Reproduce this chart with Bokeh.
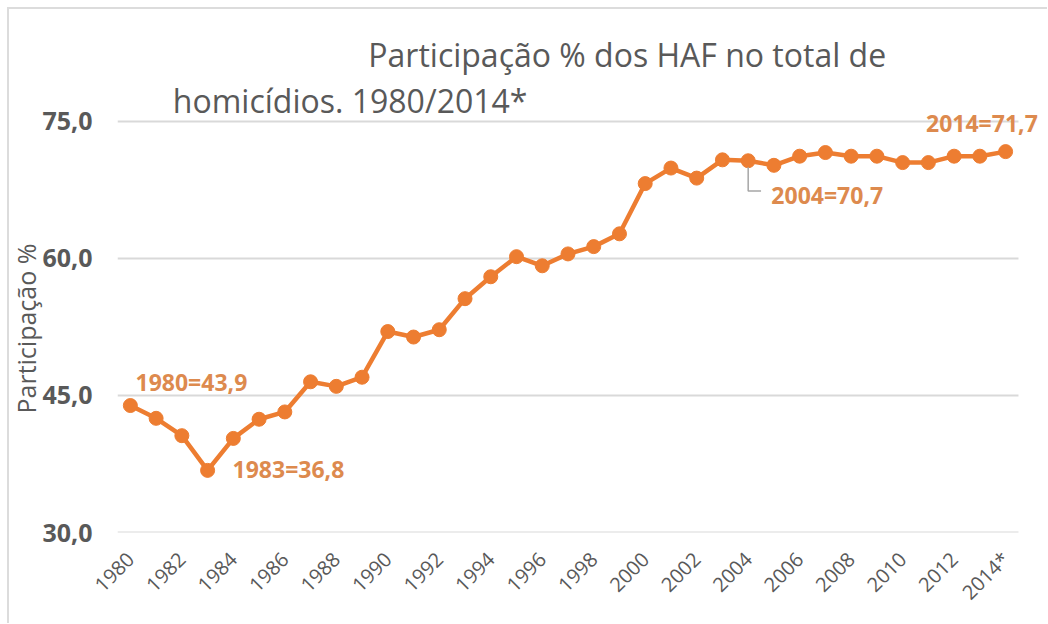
from math import pi
from bokeh.plotting import figure
from bokeh.models import FixedTicker, Label, Range1d, Title
from bokeh.embed import file_html
from bokeh.resources import INLINE

years = list(range(1980, 2015))
values = [43.9, 42.5, 40.6, 36.8, 40.3, 42.4, 43.2, 46.5, 46.0, 47.0,
          52.0, 51.4, 52.2, 55.6, 58.0, 60.2, 59.2, 60.5, 61.3, 62.7,
          68.2, 69.9, 68.8, 70.8, 70.7, 70.2, 71.2, 71.6, 71.2, 71.2,
          70.5, 70.5, 71.2, 71.2, 71.7]
x_ticks = list(range(1980, 2015, 2))
x_tick_labels = {2014: "2014*"}
y_ticks = [30, 45, 60, 75]
y_tick_labels = {30: "30,0", 45: "45,0", 60: "60,0", 75: "75,0"}
title_lines = ["Participação % dos HAF no total de", "homicídios. 1980/2014*"]
y_label = "Participação %"
callout_years = [1980, 1983, 2004, 2014]

ORANGE = "#ED7D31"
LABEL_C = "#DD8A4E"
GRAY = "#595959"
FONT = "Open Sans"

X0, X1 = 1979.5, 2014.5   # category-style padding of the axis

p = figure(width=1038, height=614, frame_width=928, frame_height=523,
           output_backend="svg", toolbar_location=None,
           x_range=Range1d(X0, 2015.55), y_range=Range1d(30, 87.26),
           min_border_left=108, min_border_right=2, min_border_bottom=91,
           min_border_top=0)
p.outline_line_color = None
p.background_fill_color = "white"
p.border_fill_color = "white"
p.styles = {"margin-left": "7px", "margin-top": "7px",
            "border-left": "2px solid #dcdcdc", "border-top": "2px solid #dcdcdc"}

p.xaxis.ticker = FixedTicker(ticks=x_ticks)
p.xaxis.major_label_overrides = {k: v for k, v in x_tick_labels.items()}
p.xaxis.major_label_orientation = pi / 4
p.yaxis.ticker = FixedTicker(ticks=y_ticks)
p.yaxis.major_label_overrides = y_tick_labels
for ax in (p.xaxis, p.yaxis):
    ax.axis_line_color = None
    ax.major_tick_line_color = None
    ax.minor_tick_line_color = None
    ax.major_label_text_color = GRAY
    ax.major_label_text_font = FONT
p.xaxis.major_label_text_font_size = "20px"
p.xaxis.major_label_standoff = 17
p.yaxis.major_label_text_font_size = "25px"
p.yaxis.major_label_text_font_style = "bold"
p.yaxis.major_label_standoff = 19
p.xgrid.grid_line_color = None
p.ygrid.grid_line_color = None

# horizontal gridlines, limited to the category span
p.segment(x0=[X0] * len(y_ticks), x1=[X1] * len(y_ticks), y0=y_ticks, y1=y_ticks,
          line_color="#D9D9D9", line_width=2)

p.line(years, values, line_color=ORANGE, line_width=4.5)
p.scatter(years, values, size=14, fill_color=ORANGE, line_color=ORANGE)

# leader line for 2004 callout
i04 = years.index(2004)
p.line([years[i04], years[i04], years[i04] + 0.5],
       [values[i04] - 0.7, values[i04] - 3.3, values[i04] - 3.3],
       line_color="#A6A6A6", line_width=1.5)

def val(y):
    return values[years.index(y)]

offsets = {1980: (0.2, 2.6, "left"), 1983: (0.97, 0.2, "left"),
           2004: (0.9, -3.8, "left"), 2014: (1.25, 3.15, "right")}
for yr in callout_years:
    dx, dy, al = offsets[yr]
    txt = f"{yr}={val(yr):.1f}".replace(".", ",")
    p.add_layout(Label(x=yr + dx, y=val(yr) + dy, text=txt, text_font=FONT,
                       text_font_size="23px", text_font_style="bold",
                       text_color=LABEL_C, text_align=al, text_baseline="middle"))

p.add_layout(Label(x=1999.3, y=82.3, text=title_lines[0], text_font=FONT,
                   text_font_size="32px", text_color=GRAY, text_align="center",
                   text_baseline="middle"))
p.add_layout(Label(x=1981.65, y=77.3, text=title_lines[1], text_font=FONT,
                   text_font_size="32px", text_color=GRAY, text_align="left",
                   text_baseline="middle"))

p.add_layout(Title(text=y_label, text_font=FONT, text_font_size="25px",
                   text_font_style="normal", text_color=GRAY,
                   align="left", offset=119, standoff=-6), "left")

open("out.html", "w").write(file_html(p, INLINE))
